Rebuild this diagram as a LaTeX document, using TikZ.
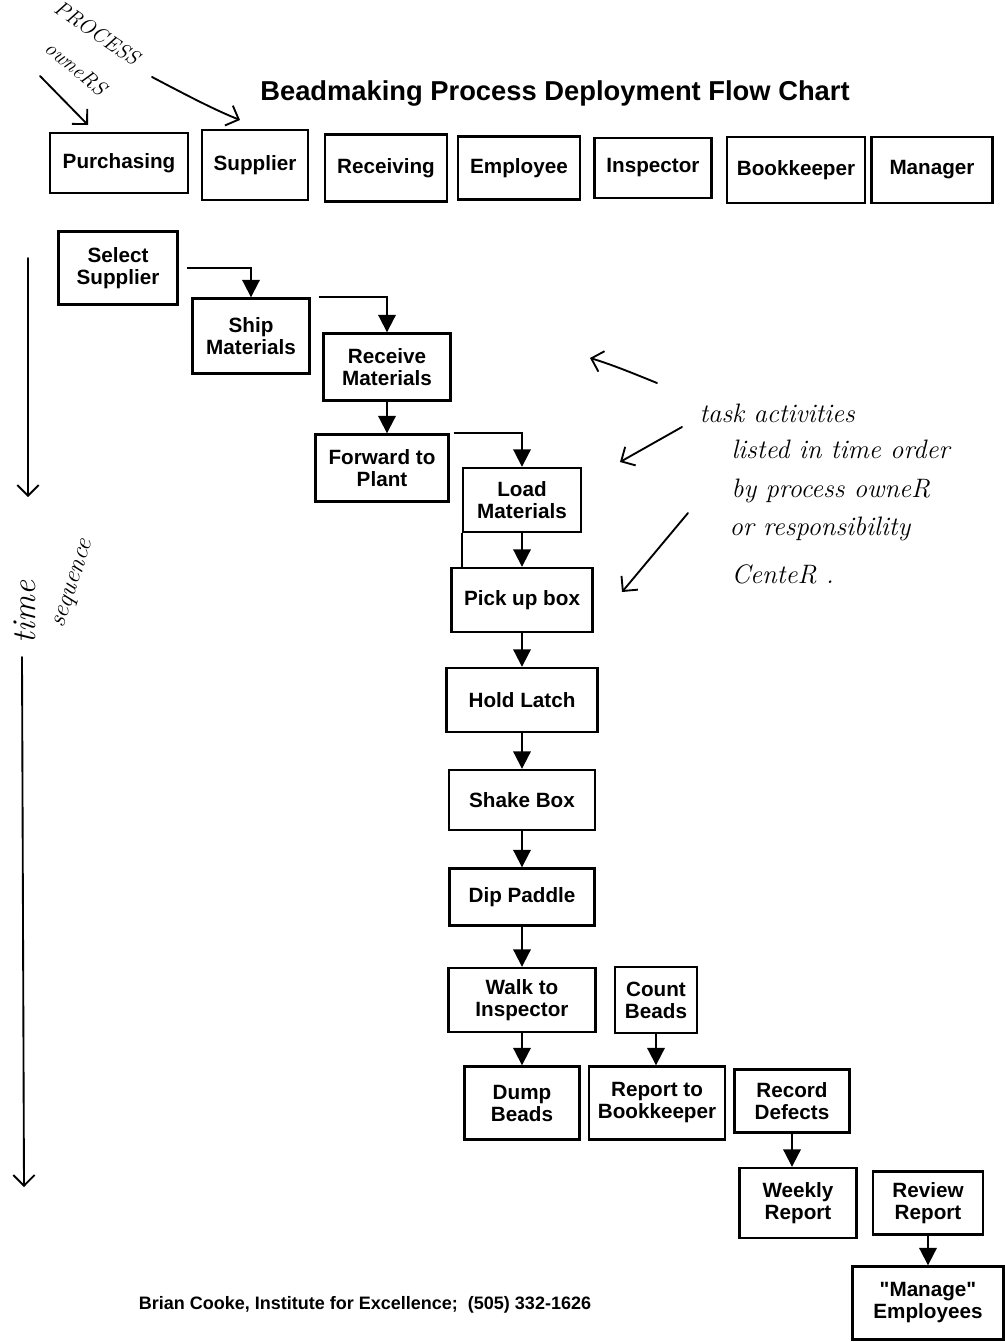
\documentclass[tikz,border=0pt]{standalone}
\usepackage{fontspec}
\newfontfamily\arialike{Liberation Sans}
\usetikzlibrary{arrows.meta}

\tikzset{every picture/.style={line width=0.75pt}}
\tikzset{
  lane/.style={draw, line width=1.8pt, inner sep=0.75pt, align=center, font=\arialike\bfseries\fontsize{15.5}{16.5}\selectfont},
  task/.style={lane},
  boxsize/.style 2 args={minimum width=#1*0.75pt, minimum height=#2*0.75pt},
  flow/.style={line width=1.5pt, -{Triangle[length=13pt,width=13pt]}},
  scrawl/.style={font=\itshape\fontsize{20}{28}\selectfont, inner sep=0.75pt},
  scrawlarrow/.style={line width=1.4pt, line cap=round, -{Straight Barb[length=8pt,width=16pt]}}
}

\begin{document}
\begin{tikzpicture}[x=0.75pt,y=0.75pt,yscale=-1,xscale=1]
\useasboundingbox (0,0) rectangle (1005,1342);

% Title
\node [font=\arialike\bfseries\fontsize{20.5}{24}\selectfont, anchor=base] (title) at (555,100) {Beadmaking Process Deployment Flow Chart};

% Process owners
\node [lane, boxsize={138}{60}] (purchasing) at (119,163) {Purchasing};
\node [lane, boxsize={106}{70}] (supplier) at (255,165) {Supplier};
\node [lane, boxsize={122}{67}] (receiving) at (386,168) {Receiving};
\node [lane, boxsize={122}{63}] (employee) at (519,168) {Employee};
\node [lane, boxsize={117}{60}] (inspector) at (653,168) {Inspector};
\node [lane, boxsize={138}{66}] (bookkeeper) at (796,170) {Bookkeeper};
\node [lane, boxsize={121}{66}] (manager) at (932,170) {Manager};

% Task activities
\node [task, boxsize={119}{73}] (select) at (118,268) {Select\\Supplier};
\node [task, boxsize={117}{75}] (ship) at (251,336) {Ship\\Materials};
\node [task, boxsize={127}{67}] (receive) at (387,367) {Receive\\Materials};
\node [task, boxsize={133}{67}] (forward) at (382,468) {Forward to\\Plant};
\node [task, boxsize={118}{64}] (load) at (522,500) {Load\\Materials};
\node [task, boxsize={141}{64}] (pickup) at (522,600) {Pick up box};
\node [task, boxsize={151}{64}] (hold) at (522,700) {Hold Latch};
\node [task, boxsize={146}{60}] (shake) at (522,800) {Shake Box};
\node [task, boxsize={145}{57}] (dip) at (522,897) {Dip Paddle};
\node [task, boxsize={147}{64}] (walk) at (522,1000) {Walk to\\Inspector};
\node [task, boxsize={82}{66}] (count) at (656,1000) {Count\\Beads};
\node [task, boxsize={115}{73}] (dump) at (522,1103) {Dump\\Beads};
\node [task, boxsize={136}{73}] (report) at (657,1103) {Report to\\Bookkeeper};
\node [task, boxsize={115}{63}] (record) at (792,1101) {Record\\Defects};
\node [task, boxsize={117}{70}] (weekly) at (798,1203) {Weekly\\Report};
\node [task, boxsize={110}{63}] (review) at (928,1203) {Review\\Report};
\node [task, boxsize={151}{73}] (manage) at (928,1303) {"Manage"\\Employees};

% Flow lines
\draw [flow] ([xshift=6pt]select.east) -| (ship.north);
\draw [flow] ([xshift=6pt]ship.north east) -| (receive.north);
\draw [flow] (receive.south) -- (receive.south |- forward.north);
\draw [flow] ([xshift=3pt]forward.north east) -| (load.north);
\draw [flow] (load.south) -- (load.south |- pickup.north);
\draw [line width=1.5pt] (load.south west) -- (load.south west |- pickup.north);
\draw [flow] (pickup.south) -- (pickup.south |- hold.north);
\draw [flow] (hold.south) -- (hold.south |- shake.north);
\draw [flow] (shake.south) -- (shake.south |- dip.north);
\draw [flow] (dip.south) -- (dip.south |- walk.north);
\draw [flow] (walk.south) -- (walk.south |- dump.north);
\draw [flow] (count.south) -- (count.south |- report.north);
\draw [flow] (record.south) -- (record.south |- weekly.north);
\draw [flow] (review.south) -- (review.south |- manage.north);

% Handwritten notes
\node [scrawl, font=\itshape\fontsize{16}{18}\selectfont, inner sep=0pt, rotate=-34] (procword) at (97,33) {PROCESS};
\node [scrawl, font=\itshape\fontsize{16}{18}\selectfont, inner sep=0pt, rotate=-40] (ownword) at (76,68) {owneRS};
\coordinate (ownA) at (40,76);
\coordinate (ownAtip) at (88,125);
\coordinate (ownB) at (152,77);
\coordinate (ownBtip) at (240,120);
\draw [scrawlarrow] (ownA) -- (ownAtip);
\draw [scrawlarrow] (ownB) .. controls (190,97) and (215,110) .. (ownBtip);

\node [scrawl, anchor=base west] (note1) at (698,422) {task activities};
\node [scrawl, anchor=base west] (note2) at (730,458) {listed in time order};
\node [scrawl, anchor=base west] (note3) at (730,497) {by process owneR};
\node [scrawl, anchor=base west] (note4) at (728,535) {or responsibility};
\node [scrawl, anchor=base west] (note5) at (730,583) {CenteR .};
\coordinate (noteA) at (657,383);
\coordinate (noteAtip) at (590,358);
\coordinate (noteB) at (682,427);
\coordinate (noteBtip) at (620,462);
\coordinate (noteC) at (688,513);
\coordinate (noteCtip) at (622,592);
\draw [scrawlarrow] (noteA) .. controls (630,372) and (610,364) .. (noteAtip);
\draw [scrawlarrow] (noteB) -- (noteBtip);
\draw [scrawlarrow] (noteC) -- (noteCtip);

% Time sequence
\coordinate (timeA) at (28,258);
\coordinate (timeAtip) at (28,497);
\coordinate (timeB) at (22,657);
\coordinate (timeBtip) at (24,1187);
\draw [scrawlarrow] (timeA) -- (timeAtip);
\draw [scrawlarrow] (timeB) -- (timeBtip);
\node [scrawl, font=\itshape\fontsize{25}{28}\selectfont, inner sep=0pt, rotate=90] (timeword) at (25,612) {time};
\node [scrawl, font=\itshape\fontsize{19}{22}\selectfont, inner sep=0pt, rotate=72] (seqword) at (75,584) {sequence};

% Credit line
\node [font=\arialike\bfseries\fontsize{13.5}{16}\selectfont] (credit) at (365,1305) {Brian Cooke, Institute for Excellence;\ \ (505) 332-1626};
\end{tikzpicture}
\end{document}
